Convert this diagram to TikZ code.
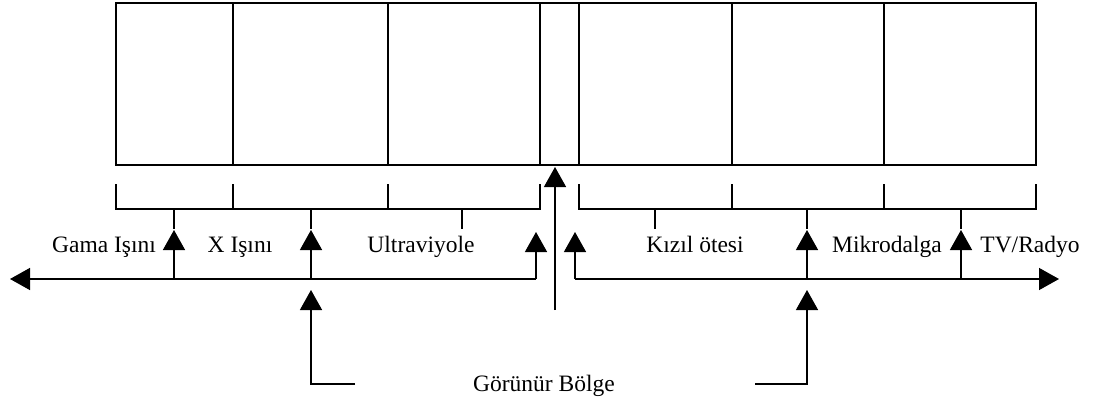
\documentclass[tikz,border=0pt]{standalone}
\usepackage{fontspec}
\setmainfont{Liberation Serif}
\usetikzlibrary{arrows.meta}

\begin{document}
\begin{tikzpicture}[x=1pt,y=-1pt,line width=1.4pt,
        tip/.style={-{Triangle[width=22pt,length=20pt]}},
        band/.style={font=\fontsize{23.5}{28}\selectfont,anchor=base,inner sep=0pt}]
        \useasboundingbox (0,0) rectangle (1097,401);
        \draw (116,3) rectangle (1036,165);
        \foreach \x in {233,388,540,579,732,884}
            \draw (\x,3) -- (\x,165);
        \draw (116,184) -- (116,209) -- (540,209) -- (540,184);
        \draw (579,184) -- (579,209) -- (1036,209) -- (1036,184);
        \foreach \x in {233,388,732,884}
            \draw (\x,184) -- (\x,209);
        \foreach \x in {174,311,462,655,807,961}
            \draw (\x,209) -- (\x,229);
        \coordinate (L) at (536,279);
        \coordinate (Lup) at (536,232);
        \coordinate (Lend) at (10,279);
        \coordinate (R) at (575,279);
        \coordinate (Rup) at (575,232);
        \coordinate (Rend) at (1059,279);
        \draw[tip] (L) -- (Lup);
        \draw[tip] (L) -- (Lend);
        \draw[tip] (R) -- (Rup);
        \draw[tip] (R) -- (Rend);
        \foreach \x in {174,311,807,961}{
            \coordinate (b\x) at (\x,279);
            \coordinate (t\x) at (\x,230);
            \draw[tip] (b\x) -- (t\x);
        }
        \coordinate (xfoot) at (355,384);
        \coordinate (xcorner) at (311,384);
        \coordinate (xtop) at (311,290);
        \draw[tip] (xfoot) -- (xcorner) -- (xtop);
        \coordinate (mfoot) at (755,384);
        \coordinate (mcorner) at (807,384);
        \coordinate (mtop) at (807,290);
        \draw[tip] (mfoot) -- (mcorner) -- (mtop);
        \coordinate (vfoot) at (555,310);
        \coordinate (vtop) at (555,167);
        \draw[tip] (vfoot) -- (vtop);
        \node[band] (gama) at (104,252) {Gama Işını};
        \node[band] (xray) at (240,252) {X Işını};
        \node[band] (uv) at (421,252) {Ultraviyole};
        \node[band] (ir) at (695,252) {Kızıl ötesi};
        \node[band] (micro) at (887,252) {Mikrodalga};
        \node[band] (radio) at (1030,252) {TV/Radyo};
        \node[band] (visible) at (544,391) {Görünür Bölge};
    \end{tikzpicture}
\end{document}
